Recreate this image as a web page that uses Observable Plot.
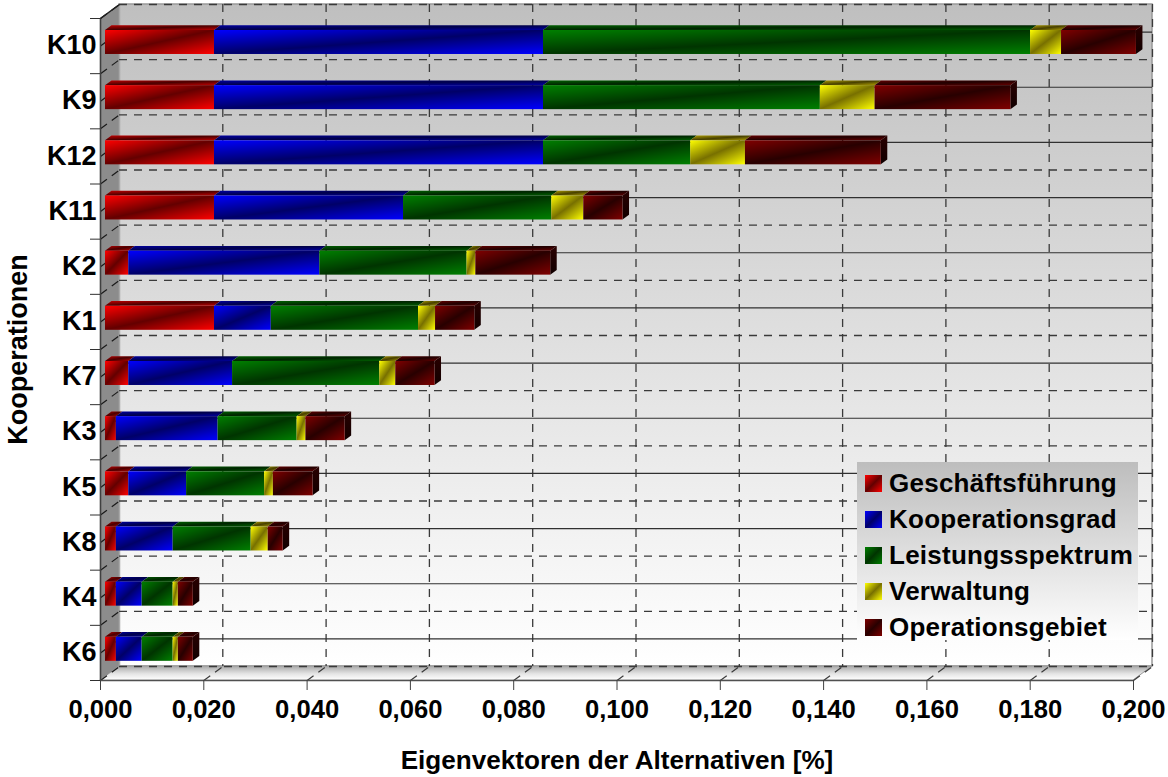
<!DOCTYPE html>
<html>
<head>
<meta charset="utf-8">
<script src="https://cdn.jsdelivr.net/npm/d3@7"></script>
<script src="https://cdn.jsdelivr.net/npm/@observablehq/plot@0.6"></script>
<style>
  html, body { margin: 0; padding: 0; background: #fff; }
  #wrap { position: relative; width: 1168px; height: 777px; font-family: "Liberation Sans", Arial, sans-serif; }
  #wrap svg { display: block; }
  #legend { position: absolute; left: 857px; top: 462px; width: 281px; height: 178px;
            background: linear-gradient(to bottom, #bdbdbd, #ffffff); }
  .row { position: absolute; left: 8px; height: 18px; display: flex; align-items: center; white-space: nowrap;
         font-weight: bold; font-size: 26px; letter-spacing: 0.25px; color: #000; }
  .sw { display: inline-block; width: 17px; height: 17px; margin-right: 7px; flex: none; }
</style>
</head>
<body>
<div id="wrap"></div>
<script>
// ---- data ----
const categories = ["K10","K9","K12","K11","K2","K1","K7","K3","K5","K8","K4","K6"];
const seriesNames = ["Geschäftsführung","Kooperationsgrad","Leistungsspektrum","Verwaltung","Operationsgebiet"];
const geschaeftsfuehrung = [0.0211,0.0211,0.0211,0.0211,0.0045,0.0211,0.0045,0.0021,0.0045,0.0021,0.0021,0.0021];
const kooperationsgrad   = [0.0637,0.0637,0.0637,0.0366,0.0370,0.0110,0.0201,0.0197,0.0112,0.0110,0.0050,0.0050];
const leistungsspektrum  = [0.0943,0.0536,0.0285,0.0287,0.0285,0.0285,0.0285,0.0153,0.0151,0.0151,0.0060,0.0060];
const verwaltung         = [0.0060,0.0106,0.0106,0.0062,0.0017,0.0033,0.0031,0.0017,0.0017,0.0033,0.0010,0.0010];
const operationsgebiet   = [0.0145,0.0263,0.0263,0.0076,0.0145,0.0076,0.0076,0.0076,0.0077,0.0029,0.0029,0.0029];
const seriesValues = [geschaeftsfuehrung,kooperationsgrad,leistungsspektrum,verwaltung,operationsgebiet];
const xTicks = [0,0.02,0.04,0.06,0.08,0.1,0.12,0.14,0.16,0.18,0.2];

// gradient stops per series: [edge, middle] for the front face and for the top face
const frontStops = [["#ff0000","#640000"],["#0000ff","#000068"],["#008000","#003400"],["#ffff00","#787000"],["#800000","#280000"]];
const topStops   = [["#c00000","#480000"],["#0000a0","#000048"],["#006000","#002400"],["#b0a000","#484000"],["#640000","#200000"]];

// ---- 3D depth, expressed in pixels and in data units ----
const pxPerX = 5165, pxPerY = 55.17;
const wallDx = 19, wallDy = -14;                    // back wall relative to the axes plane
const faceDx = 5, faceDy = -3.6;                    // bar front face relative to the axes plane
const barDepthX = 6.5 / pxPerX, barDepthY = 4.7 / pxPerY; // bar depth
const wallX = wallDx / pxPerX, wallY = -wallDy / pxPerY;
const halfBar = 12 / pxPerY;

// ---- tidy table ----
const rows = [];
categories.forEach((k, i) => {
  let cum = 0;
  seriesValues.forEach((vals, s) => {
    rows.push({k, i, s, id: k + "-" + s, a: cum, b: cum + vals[i], yc: i + 0.5});
    cum += vals[i];
  });
});
const topRows = rows.flatMap(d => [
  {...d, y: d.yc - halfBar, x1: d.a, x2: d.b},
  {...d, y: d.yc - halfBar - barDepthY, x1: d.a + barDepthX, x2: d.b + barDepthX}
]);
const sideRows = rows.filter(d => d.s === 4).flatMap(d => [
  {...d, x: d.b, y1: d.yc + halfBar, y2: d.yc - halfBar},
  {...d, x: d.b + barDepthX, y1: d.yc + halfBar - barDepthY, y2: d.yc - halfBar - barDepthY}
]);
const yCentres = categories.map((_, i) => i + 0.5);
const yBounds = d3.range(0, categories.length + 1);

const commaFmt = d => d3.format(".3f")(d).replace(".", ",");

function defs() {
  const d = d3.create("svg:defs");
  const grad = (id, stops, vertical) => {
    const g = d.append("linearGradient").attr("id", id)
      .attr("x1", 0).attr("y1", 0).attr("x2", vertical ? 0 : 1).attr("y2", 1);
    stops.forEach(([o, c]) => g.append("stop").attr("offset", o).attr("stop-color", c));
  };
  seriesNames.forEach((_, s) => {
    grad("front" + s, [[0, frontStops[s][0]], [0.5, frontStops[s][1]], [1, frontStops[s][0]]]);
    grad("top" + s, [[0, topStops[s][0]], [0.5, topStops[s][1]], [1, topStops[s][0]]]);
  });
  grad("side", [[0, "#2a0000"], [1, "#100000"]], true);
  grad("wall", [[0, "#bfbfbf"], [1, "#ffffff"]], true);
  grad("floor", [[0, "#a8a8a8"], [0.55, "#e4e4e4"], [1, "#ffffff"]], true);
  return d.node();
}

const gridColor = "#3a3a3a";
const chart = Plot.plot({
  width: 1168, height: 777,
  marginLeft: 100, marginRight: 35, marginTop: 18, marginBottom: 97,
  style: {background: "#fff", fontFamily: "'Liberation Sans', Arial, sans-serif", color: "#000"},
  x: {domain: [0, 0.2]},
  y: {domain: [0, 12], reverse: true},
  marks: [
    defs,
    // back wall
    Plot.rect([0], {x1: 0, x2: 0.2, y1: 0, y2: 12, dx: wallDx, dy: wallDy, fill: "url(#wall)", stroke: "#999", strokeWidth: 1.5}),
    // floor
    Plot.areaX([{y: 12, x1: 0, x2: 0.2}, {y: 12 - wallY, x1: wallX, x2: 0.2 + wallX}],
      {y: "y", x1: "x1", x2: "x2", fill: "url(#floor)", stroke: "#999", strokeWidth: 1}),
    // left wall
    Plot.areaY([{x: 0, y1: 12, y2: 0}, {x: wallX, y1: 12 - wallY, y2: -wallY}],
      {x: "x", y1: "y1", y2: "y2", fill: "#8c8c8c"}),
    Plot.ruleX([wallX], {y1: -wallY, y2: 12 - wallY, stroke: "#a8a8a8", strokeWidth: 1.5}),
    // vertical grid on the back wall and its foot on the floor
    Plot.ruleX(xTicks.slice(1), {dx: wallDx, dy: wallDy, stroke: gridColor, strokeWidth: 1.3, strokeDasharray: "8,7"}),
    Plot.link(xTicks.slice(1), {x1: d => d, y1: 12, x2: d => d + wallX, y2: 12 - wallY, stroke: gridColor, strokeWidth: 1.2, strokeDasharray: "8,6"}),
    // horizontal grid on the back wall
    Plot.ruleY(yBounds, {dx: wallDx, dy: wallDy, stroke: gridColor, strokeWidth: 1.3, strokeDasharray: "8,7"}),
    Plot.ruleY(yCentres, {dx: wallDx, dy: wallDy, stroke: "#303030", strokeWidth: 1.2}),
    // grid continued over the left wall
    Plot.link(yBounds, {x1: 0, y1: d => d, x2: wallX, y2: d => d - wallY, stroke: "#1a1a1a", strokeWidth: 1.2, strokeDasharray: "8,6"}),
    Plot.link(yCentres, {x1: 0, y1: d => d, x2: wallX, y2: d => d - wallY, stroke: "#1a1a1a", strokeWidth: 1.2}),
    // bars: top faces, side faces, front faces
    ...seriesNames.map((_, s) => Plot.areaX(topRows.filter(d => d.s === s),
      {y: "y", x1: "x1", x2: "x2", z: "id", fill: `url(#top${s})`, dx: faceDx, dy: faceDy})),
    Plot.areaY(sideRows, {x: "x", y1: "y1", y2: "y2", z: "id", fill: "url(#side)", dx: faceDx, dy: faceDy}),
    ...seriesNames.map((_, s) => Plot.rect(rows.filter(d => d.s === s),
      {x1: "a", x2: "b", y1: d => d.yc + halfBar, y2: d => d.yc - halfBar, fill: `url(#front${s})`, dx: faceDx, dy: faceDy})),
    // front edges of the box
    Plot.ruleX([0], {stroke: "#404040", strokeWidth: 1.6}),
    Plot.ruleY([12], {stroke: "#505050", strokeWidth: 1.6}),
    Plot.link([0], {x1: 0, y1: 0, x2: wallX, y2: -wallY, stroke: "#202020", strokeWidth: 1.4}),
    // axes
    Plot.axisY({ticks: yBounds, tickSize: 10, tickFormat: () => "", label: null, stroke: "#303030"}),
    Plot.axisY({ticks: yCentres, tickSize: 0, tickPadding: 4, tickFormat: d => categories[d - 0.5], dy: -0.5,
      fontSize: 27, fontWeight: "bold", label: "Kooperationen", labelAnchor: "center", labelArrow: "none", labelOffset: 93}),
    Plot.axisX({ticks: xTicks, tickSize: 10, tickPadding: 9, tickFormat: commaFmt, fontSize: 25.6, fontWeight: "bold",
      label: null, stroke: "#404040"}),
    Plot.axisX({ticks: [], fontSize: 26.1, fontWeight: "bold",
      label: "Eigenvektoren der Alternativen [%]", labelAnchor: "center", labelArrow: "none", labelOffset: 88})
  ]
});

const wrap = document.getElementById("wrap");
wrap.appendChild(chart);

// legend overlay
const legend = document.createElement("div");
legend.id = "legend";
seriesNames.forEach((name, s) => {
  const row = document.createElement("div");
  row.className = "row";
  row.style.top = (12 + 36 * s) + "px";
  const sw = document.createElement("span");
  sw.className = "sw";
  sw.style.background = `linear-gradient(to bottom right, ${frontStops[s][0]}, ${frontStops[s][1]} 50%, ${frontStops[s][0]})`;
  row.appendChild(sw);
  row.appendChild(document.createTextNode(name));
  legend.appendChild(row);
});
wrap.appendChild(legend);
</script>
</body>
</html>
